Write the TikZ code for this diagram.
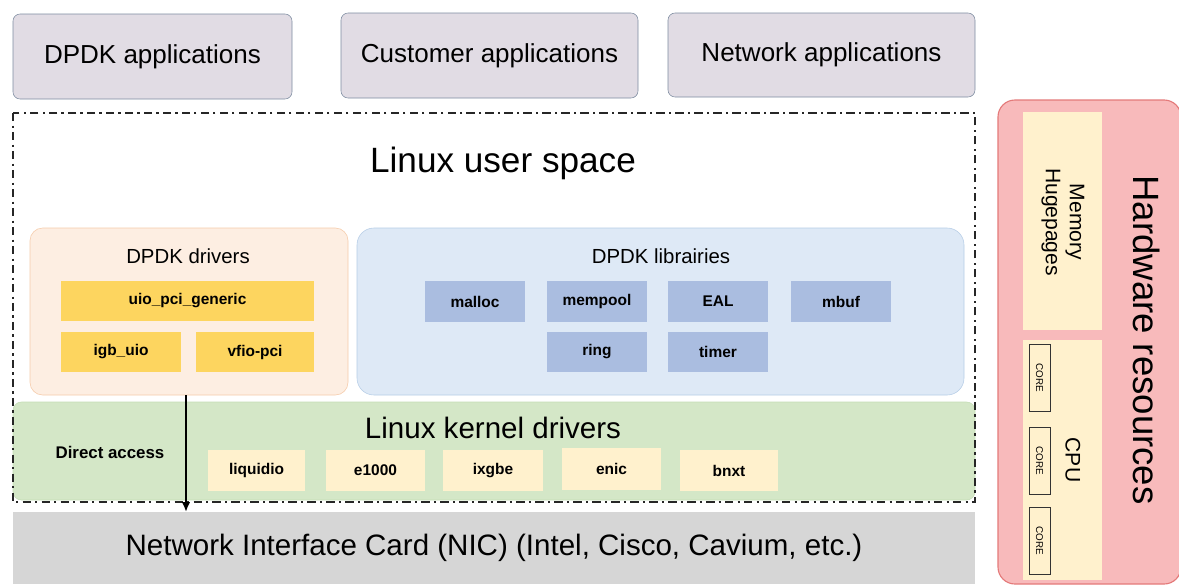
\documentclass[tikz,border=0pt]{standalone}
\usepackage{fontspec}
\setmainfont{Liberation Sans}
\usetikzlibrary{positioning,arrows.meta}

\newcommand{\pxu}{0.025cm}

\definecolor{appfill}{RGB}{225,220,228}
\definecolor{appline}{RGB}{125,140,160}
\definecolor{drvfill}{RGB}{253,238,226}
\definecolor{drvline}{RGB}{245,203,170}
\definecolor{gold}{RGB}{253,213,95}
\definecolor{libfill}{RGB}{222,233,246}
\definecolor{libline}{RGB}{182,205,230}
\definecolor{libitem}{RGB}{170,189,224}
\definecolor{kerfill}{RGB}{212,231,199}
\definecolor{kerline}{RGB}{195,220,180}
\definecolor{creme}{RGB}{255,241,205}
\definecolor{nicgray}{RGB}{214,214,214}
\definecolor{hwfill}{RGB}{248,186,187}
\definecolor{hwline}{RGB}{228,122,122}

\tikzset{
  box/.style={rectangle, inner sep=0pt, outer sep=0pt, anchor=north west},
  appbox/.style={box, draw=appline, fill=appfill, rounded corners=5pt, font=\fontsize{18.5}{22}\selectfont},
  chip/.style={box, font=\bfseries\fontsize{11}{13}\selectfont},
  corebox/.style={rectangle, draw=black!80, thin, rotate=-90, inner sep=0pt, minimum width=67*\pxu, minimum height=21*\pxu, font=\fontsize{7}{8}\selectfont},
}

\begin{document}
\begin{tikzpicture}[x=\pxu, y=-\pxu]
\useasboundingbox (0,0) rectangle (1179,586);

% applications
\node[appbox, minimum width=279*\pxu, minimum height=85*\pxu] at (13,14) (dpdkapp) {DPDK applications};
\node[appbox, minimum width=297*\pxu, minimum height=85*\pxu] at (341,13) (custapp) {Customer applications};
\node[appbox, minimum width=307*\pxu, minimum height=84*\pxu] at (668,13) (netapp) {Network applications};

% hardware resources
\node[box, draw=hwline, fill=hwfill, rounded corners=12pt, line width=0.8pt, minimum width=183*\pxu, minimum height=484*\pxu] at (998,100) (hw) {};
\node[rotate=-90, font=\fontsize{26}{30}\selectfont] at (1147,340) (hwlabel) {Hardware resources};
\node[box, fill=creme, minimum width=79*\pxu, minimum height=218*\pxu] at (1023,112) (mem) {};
\node[rotate=-90, align=center, font=\fontsize{15}{17}\selectfont] at (1063,222) (memlabel) {Memory\\Hugepages};
\node[box, fill=creme, minimum width=79*\pxu, minimum height=240*\pxu] at (1023,340) (cpu) {};
\node[rotate=-90, font=\fontsize{15}{17}\selectfont] at (1073,460) (cpulabel) {CPU};
\node[corebox] at (1039.5,377.5) (core1) {CORE};
\node[corebox] at (1039.5,461) (core2) {CORE};
\node[corebox] at (1039.5,541) (core3) {CORE};

% user space
\node[font=\fontsize{25}{30}\selectfont] at (503,163) (userspace) {Linux user space};

\node[box, draw=drvline, fill=drvfill, rounded corners=9pt, minimum width=318*\pxu, minimum height=167*\pxu] at (30,228) (drivers) {};
\node[font=\fontsize{14.5}{17}\selectfont] at (188,256) (drvlabel) {DPDK drivers};
\node[chip, fill=gold, minimum width=253*\pxu, minimum height=40*\pxu] at (61,281) (uio) {uio\_pci\_generic};
\node[chip, fill=gold, minimum width=120*\pxu, minimum height=40*\pxu] at (61,332) (igb) {igb\_uio};
\node[chip, fill=gold, minimum width=118*\pxu, minimum height=40*\pxu] at (196,332) (vfio) {vfio-pci};

\node[box, draw=libline, fill=libfill, rounded corners=12pt, minimum width=607*\pxu, minimum height=167*\pxu] at (357,228) (libs) {};
\node[font=\fontsize{14.5}{17}\selectfont] at (661,256) (liblabel) {DPDK librairies};
\node[chip, fill=libitem, minimum width=100*\pxu, minimum height=41*\pxu] at (425,281) (malloc) {malloc};
\node[chip, fill=libitem, minimum width=100*\pxu, minimum height=41*\pxu] at (547,281) (mempool) {mempool};
\node[chip, fill=libitem, minimum width=100*\pxu, minimum height=41*\pxu] at (668,281) (eal) {EAL};
\node[chip, fill=libitem, minimum width=100*\pxu, minimum height=41*\pxu] at (791,281) (mbuf) {mbuf};
\node[chip, fill=libitem, minimum width=100*\pxu, minimum height=40*\pxu] at (547,332) (ring) {ring};
\node[chip, fill=libitem, minimum width=100*\pxu, minimum height=40*\pxu] at (668,332) (timer) {timer};

% kernel
\node[box, draw=kerline, fill=kerfill, rounded corners=6pt, minimum width=962*\pxu, minimum height=98*\pxu] at (13,402) (kernel) {};
\node[font=\fontsize{21}{25}\selectfont] at (493,428) (kerlabel) {Linux kernel drivers};
\node[font=\bfseries\fontsize{12}{14}\selectfont] at (110,452) (direct) {Direct access};
\node[chip, fill=creme, minimum width=97*\pxu, minimum height=41*\pxu] at (208,450) (liquidio) {liquidio};
\node[chip, fill=creme, minimum width=99*\pxu, minimum height=41*\pxu] at (326,450) (eth) {e1000};
\node[chip, fill=creme, minimum width=100*\pxu, minimum height=41*\pxu] at (443,450) (ixgbe) {ixgbe};
\node[chip, fill=creme, minimum width=99*\pxu, minimum height=42*\pxu] at (562,448) (enic) {enic};
\node[chip, fill=creme, minimum width=98*\pxu, minimum height=41*\pxu] at (680,450) (bnxt) {bnxt};

% NIC
\node[box, fill=nicgray, minimum width=962*\pxu, minimum height=72*\pxu, font=\fontsize{21}{25}\selectfont] at (13,512) (nic) {Network Interface Card (NIC) (Intel, Cisco, Cavium, etc.)};

% user space frame
\draw[black!85, line width=1.8pt, dash pattern=on 6pt off 3pt on 1.5pt off 3pt] (13,113) rectangle (975,502);

\coordinate (drvout) at (186,395);
\draw[black, line width=2pt, -{Latex[length=7pt,width=6pt]}] (drvout) -- (drvout |- nic.north);
\end{tikzpicture}
\end{document}
